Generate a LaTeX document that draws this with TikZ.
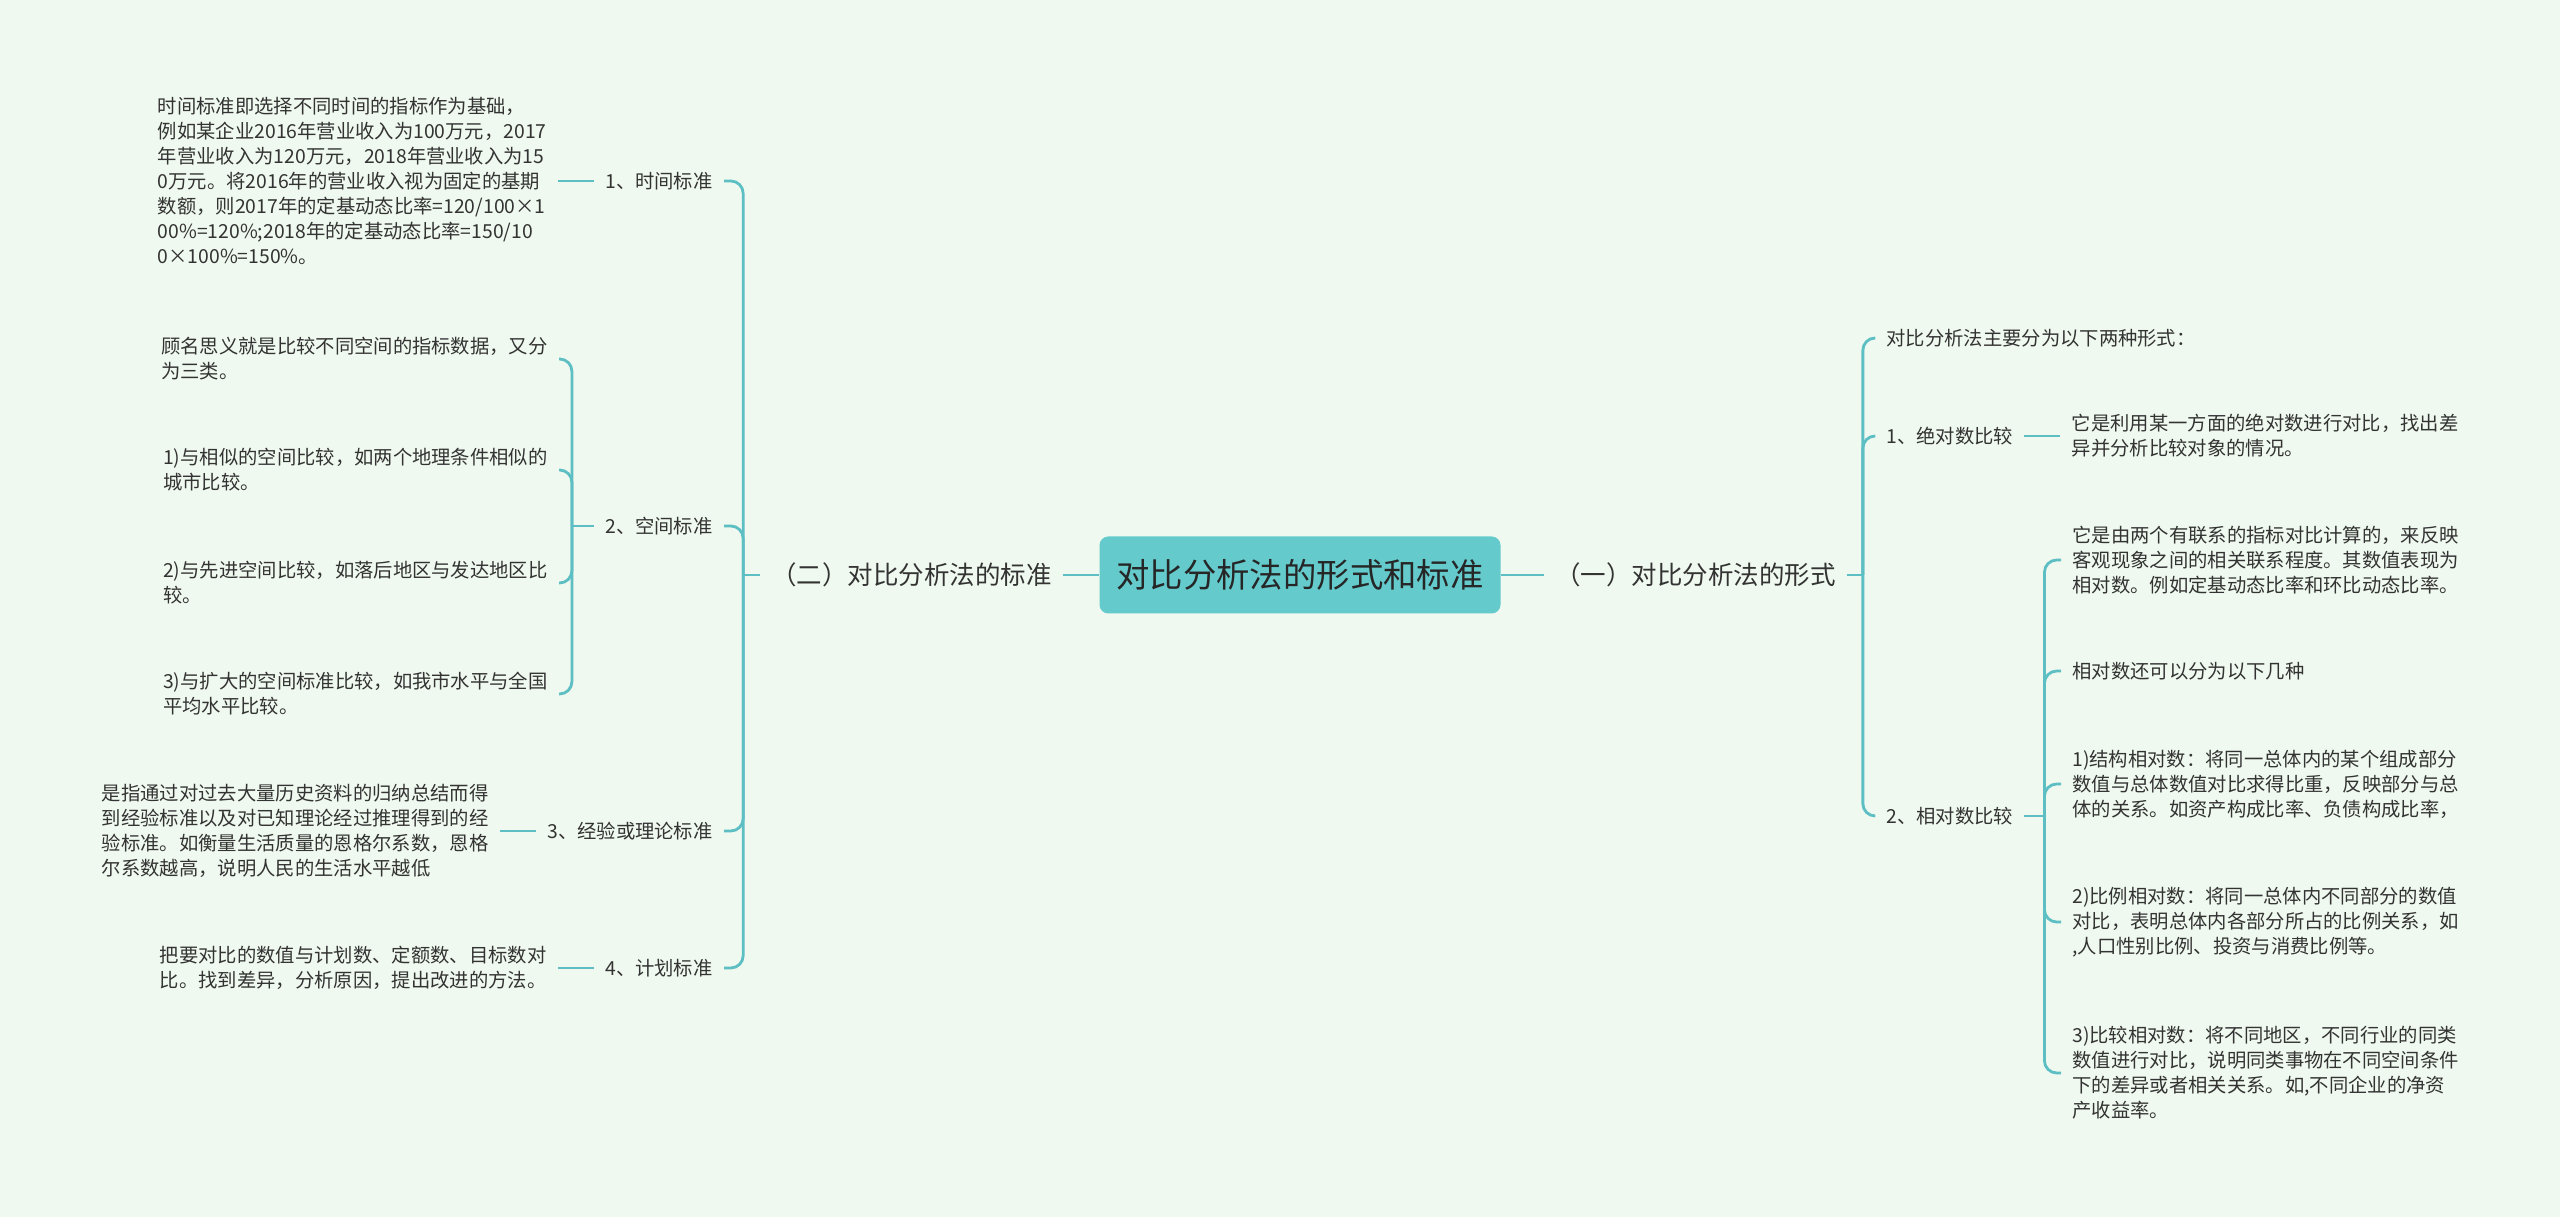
\documentclass[tikz,border=0pt]{standalone}
\usepackage{fontspec}
\setmainfont{Noto Sans CJK SC}
\usepackage{tikz}
\usetikzlibrary{positioning}
\usepackage{xcolor}
\definecolor{bgmint}{HTML}{EFF9EF}
\definecolor{linkteal}{HTML}{5DBFC4}
\definecolor{rootfill}{HTML}{64CACC}
\definecolor{inkgray}{HTML}{333333}

\begin{document}
\begin{tikzpicture}[x=2cm, y=2cm, node distance=0.72cm,
  every node/.style={font=\fontsize{11}{14.2}\selectfont, text=inkgray, inner xsep=0.22cm, inner ysep=2pt},
  link/.style={draw=linkteal, line width=1.6pt, rounded corners=7pt},
  root/.style={fill=rootfill, rounded corners=5pt, minimum width=8.02cm, minimum height=1.54cm, font=\fontsize{19}{23}\selectfont, text=black!85},
  major/.style={font=\fontsize{14.5}{18}\selectfont},
  leaf/.style={align=left}]
% background and page size
\fill[bgmint] (0,0) rectangle (25.6,12.17);
\useasboundingbox (0,0) rectangle (25.6,12.17);

% root and the two main branches
\node[root] (root) at (13.0,6.42) {对比分析法的形式和标准};
\node[major, left=0.72cm of root] (two) {（二）对比分析法的标准};
\node[major, right=0.86cm of root] (one) {（一）对比分析法的形式};

% left side: the standards
\node[anchor=east] (t1) at (7.24,10.36) {1、时间标准};
\node[anchor=east] (t2) at (7.24,6.91) {2、空间标准};
\node[anchor=east] (t3) at (7.24,3.86) {3、经验或理论标准};
\node[anchor=east] (t4) at (7.24,2.49) {4、计划标准};

\node[leaf, left=of t1] (t1d) {时间标准即选择不同时间的指标作为基础，\\例如某企业2016年营业收入为100万元，2017\\年营业收入为120万元，2018年营业收入为15\\0万元。将2016年的营业收入视为固定的基期\\数额，则2017年的定基动态比率=120/100×1\\00\%=120\%;2018年的定基动态比率=150/10\\0×100\%=150\%。};
\node[leaf, anchor=east] (s1) at (5.59,8.58) {顾名思义就是比较不同空间的指标数据，又分\\为三类。};
\node[leaf, anchor=east] (s2) at (5.59,7.47) {1)与相似的空间比较，如两个地理条件相似的\\城市比较。};
\node[leaf, anchor=east] (s3) at (5.59,6.34) {2)与先进空间比较，如落后地区与发达地区比\\较。};
\node[leaf, anchor=east] (s4) at (5.59,5.23) {3)与扩大的空间标准比较，如我市水平与全国\\平均水平比较。};
\node[leaf, left=of t3] (t3d) {是指通过对过去大量历史资料的归纳总结而得\\到经验标准以及对已知理论经过推理得到的经\\验标准。如衡量生活质量的恩格尔系数，恩格\\尔系数越高，说明人民的生活水平越低};
\node[leaf, left=of t4] (t4d) {把要对比的数值与计划数、定额数、目标数对\\比。找到差异，分析原因，提出改进的方法。};

% right side: the forms
\node[anchor=west] (f1) at (18.75,8.79) {对比分析法主要分为以下两种形式：};
\node[anchor=west] (f2) at (18.75,7.81) {1、绝对数比较};
\node[anchor=west] (f3) at (18.75,4.01) {2、相对数比较};

\node[leaf, right=of f2] (f2d) {它是利用某一方面的绝对数进行对比，找出差\\异并分析比较对象的情况。};
\node[leaf, anchor=west] (r1) at (20.61,6.57) {它是由两个有联系的指标对比计算的，来反映\\客观现象之间的相关联系程度。其数值表现为\\相对数。例如定基动态比率和环比动态比率。};
\node[leaf, anchor=west] (r2) at (20.61,5.46) {相对数还可以分为以下几种};
\node[leaf, anchor=west] (r3) at (20.61,4.33) {1)结构相对数：将同一总体内的某个组成部分\\数值与总体数值对比求得比重，反映部分与总\\体的关系。如资产构成比率、负债构成比率，};
\node[leaf, anchor=west] (r4) at (20.61,2.95) {2)比例相对数：将同一总体内不同部分的数值\\对比，表明总体内各部分所占的比例关系，如\\,人口性别比例、投资与消费比例等。};
\node[leaf, anchor=west] (r5) at (20.61,1.44) {3)比较相对数：将不同地区，不同行业的同类\\数值进行对比，说明同类事物在不同空间条件\\下的差异或者相关关系。如,不同企业的净资\\产收益率。};

% bracket junctions
\coordinate (lj) at ([xshift=-0.34cm]two.west);
\coordinate (rj) at ([xshift=0.32cm]one.east);
\coordinate (t2j) at ([xshift=-0.44cm]t2.west);
\coordinate (f3j) at ([xshift=0.4cm]f3.east);

% connectors
\draw[link] (root.west) -- (two.east);
\draw[link] (root.east) -- (one.west);
\draw[link] (two.west) -- (lj);
\foreach \c in {t1,t2,t3,t4} \draw[link] (lj) |- (\c.east);
\draw[link] (one.east) -- (rj);
\foreach \c in {f1,f2,f3} \draw[link] (rj) |- (\c.west);
\draw[link] (t2.west) -- (t2j);
\foreach \c in {s1,s2,s3,s4} \draw[link] (t2j) |- (\c.east);
\draw[link] (f3.east) -- (f3j);
\foreach \c in {r1,r2,r3,r4,r5} \draw[link] (f3j) |- (\c.west);
\draw[link] (t1.west) -- (t1d.east);
\draw[link] (t3.west) -- (t3d.east);
\draw[link] (t4.west) -- (t4d.east);
\draw[link] (f2.east) -- (f2d.west);
\end{tikzpicture}
\end{document}
